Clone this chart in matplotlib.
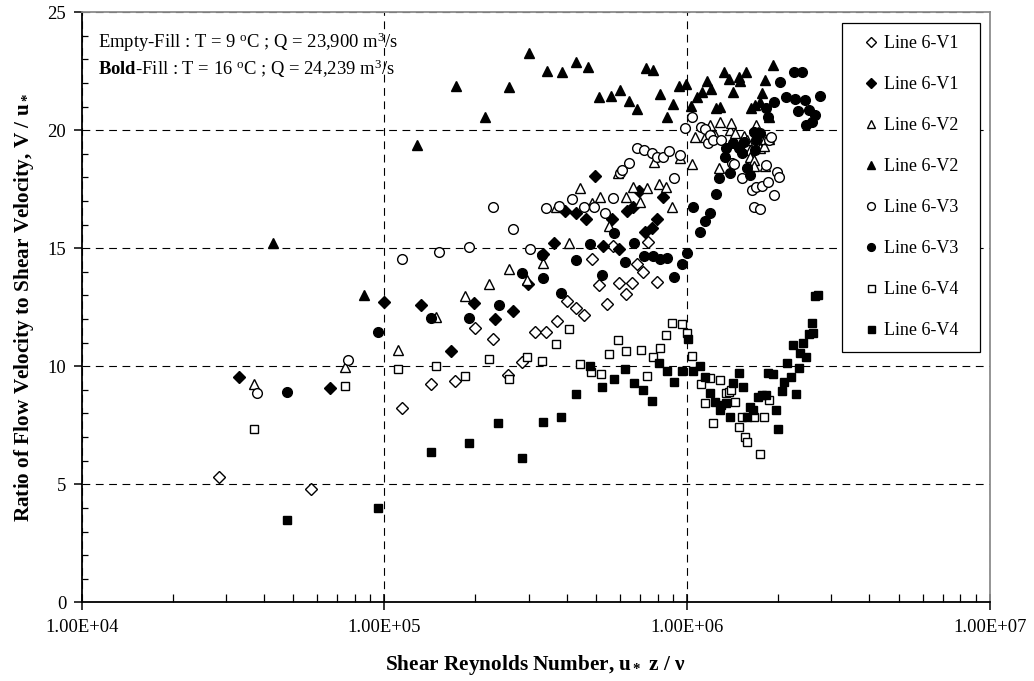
import matplotlib
matplotlib.use('Agg')
import matplotlib.pyplot as plt
from matplotlib.ticker import FixedLocator, FixedFormatter, LogLocator, MultipleLocator, NullFormatter

plt.rcParams['font.family'] = ['Liberation Serif', 'DejaVu Serif']
plt.rcParams['mathtext.fontset'] = 'custom'
plt.rcParams['mathtext.rm'] = 'Liberation Serif'
plt.rcParams['mathtext.it'] = 'Liberation Serif:italic'
plt.rcParams['mathtext.bf'] = 'Liberation Serif:bold'

# ---------------- data ----------------
v1_open_x = [2.85e4, 5.71e4, 1.14e5, 1.43e5, 1.71e5, 2.0e5, 2.29e5, 2.57e5, 2.86e5, 3.15e5, 3.41e5,
             3.71e5, 4.0e5, 4.30e5, 4.57e5, 4.84e5, 5.13e5, 5.43e5, 5.71e5, 5.97e5, 6.28e5, 6.56e5,
             6.82e5, 7.14e5, 7.41e5, 7.98e5]
v1_open_y = [5.30, 4.79, 8.25, 9.24, 9.38, 11.61, 11.14, 9.63, 10.17, 11.47, 11.44,
             11.93, 12.78, 12.46, 12.17, 14.53, 13.44, 12.64, 15.11, 13.54, 13.06, 13.54,
             14.32, 14.01, 15.28, 13.58]

v1_fill_x = [3.30e4, 6.62e4, 1.0e5, 1.32e5, 1.66e5, 1.98e5, 2.32e5, 2.66e5, 2.98e5, 3.34e5, 3.64e5,
             3.95e5, 4.30e5, 4.64e5, 4.97e5, 5.29e5, 5.64e5, 5.97e5, 6.35e5, 6.65e5, 6.96e5, 7.26e5,
             7.64e5, 7.94e5, 8.31e5]
v1_fill_y = [9.56, 9.07, 12.74, 12.58, 10.65, 12.67, 11.99, 12.36, 13.47, 14.76, 15.21,
             16.59, 16.51, 16.23, 18.06, 15.11, 16.23, 14.96, 16.59, 16.74, 17.44, 15.70,
             15.85, 16.23, 17.16]

v2_open_x = [3.71e4, 7.42e4, 1.11e5, 1.48e5, 1.85e5, 2.22e5, 2.59e5, 2.95e5, 3.34e5, 3.69e5, 4.08e5,
             4.43e5, 4.84e5, 5.16e5, 5.53e5, 5.93e5, 6.28e5, 6.62e5, 7.0e5, 7.36e5, 7.78e5, 8.10e5,
             8.52e5, 8.89e5, 9.48e5, 1.04e6, 1.06e6, 1.15e6, 1.19e6, 1.24e6, 1.28e6, 1.29e6,
             1.39e6, 1.40e6, 1.44e6, 1.54e6, 1.58e6, 1.62e6, 1.62e6, 1.66e6, 1.67e6, 1.69e6, 1.72e6,
             1.74e6, 1.79e6, 1.81e6, 1.81e6, 1.87e6]
v2_open_y = [9.25, 9.98, 10.69, 12.10, 12.99, 13.49, 14.12, 13.66, 14.36, 16.74, 15.21,
             17.54, 16.91, 17.16, 15.94, 18.20, 17.19, 17.58, 16.97, 17.54, 18.67, 17.71,
             17.61, 16.74, 18.81, 18.57, 19.70, 19.73, 20.22, 19.80, 18.39, 20.36,
             20.01, 20.30, 19.87, 19.76, 19.59, 19.17, 18.88, 18.74, 18.49, 20.22, 19.94,
             19.24, 19.33, 19.62, 18.49, 19.62]

v2_fill_x = [4.30e4, 8.57e4, 1.28e5, 1.72e5, 2.15e5, 2.58e5, 3.01e5, 3.44e5, 3.86e5, 4.30e5, 4.72e5,
             5.13e5, 5.59e5, 6.01e5, 6.45e5, 6.85e5, 7.31e5, 7.74e5, 8.15e5, 8.61e5, 9.02e5, 9.44e5,
             9.91e5, 1.03e6, 1.08e6, 1.12e6, 1.16e6, 1.20e6, 1.25e6, 1.29e6, 1.33e6, 1.38e6,
             1.42e6, 1.48e6, 1.50e6, 1.57e6, 1.63e6, 1.68e6, 1.74e6, 1.77e6, 1.81e6, 1.87e6, 1.93e6]
v2_fill_y = [15.21, 13.02, 19.38, 21.88, 20.58, 21.82, 23.26, 22.53, 22.46, 22.89, 22.67,
             21.42, 21.47, 21.71, 21.24, 20.90, 22.65, 22.55, 21.53, 20.58, 21.10, 21.89,
             21.95, 21.03, 21.42, 21.64, 22.10, 21.74, 20.93, 21.00, 22.48, 22.16,
             21.64, 22.27, 22.10, 22.48, 20.93, 21.07, 21.21, 21.57, 22.13, 20.58, 22.77]

v3_open_x = [3.80e4, 7.59e4, 1.14e5, 1.52e5, 1.90e5, 2.28e5, 2.66e5, 3.03e5, 3.42e5, 3.79e5, 4.17e5,
             4.57e5, 4.94e5, 5.36e5, 5.71e5, 6.0e5, 6.08e5, 6.44e5, 6.82e5, 7.23e5, 7.64e5, 7.94e5,
             8.35e5, 8.74e5, 9.08e5, 9.48e5, 9.85e5, 1.04e6, 1.11e6, 1.15e6, 1.17e6, 1.19e6,
             1.22e6, 1.30e6, 1.41e6, 1.43e6, 1.52e6, 1.64e6, 1.67e6, 1.69e6, 1.74e6, 1.77e6,
             1.82e6, 1.85e6, 1.86e6, 1.90e6, 1.94e6, 1.98e6, 2.02e6]
v3_open_y = [8.86, 10.27, 14.53, 14.86, 15.07, 16.74, 15.81, 14.98, 16.72, 16.79, 17.08,
             16.76, 16.76, 16.51, 17.12, 18.20, 18.32, 18.63, 19.26, 19.17, 19.05, 18.86,
             18.86, 19.14, 17.97, 18.95, 20.08, 20.55, 20.13, 20.04, 19.47, 19.80,
             19.59, 19.59, 18.60, 18.57, 17.97, 17.47, 16.76, 17.61, 16.65, 17.64,
             18.53, 17.82, 19.59, 19.73, 17.26, 18.25, 18.03]

v3_fill_x = [4.78e4, 9.55e4, 1.43e5, 1.91e5, 2.39e5, 2.86e5, 3.32e5, 3.35e5, 3.83e5, 4.30e5, 4.78e5,
             5.23e5, 5.74e5, 6.24e5, 6.68e5, 7.21e5, 7.70e5, 8.15e5, 8.61e5, 9.06e5, 9.60e5, 1.0e6,
             1.05e6, 1.10e6, 1.15e6, 1.19e6, 1.25e6, 1.28e6, 1.34e6, 1.35e6, 1.39e6, 1.42e6,
             1.48e6, 1.52e6, 1.54e6, 1.58e6, 1.62e6, 1.66e6, 1.68e6, 1.69e6, 1.74e6, 1.83e6,
             1.85e6, 1.94e6, 2.03e6, 2.13e6, 2.26e6, 2.28e6, 2.33e6, 2.39e6, 2.45e6, 2.48e6,
             2.52e6, 2.58e6, 2.65e6, 2.74e6]
v3_fill_y = [8.92, 11.45, 12.03, 12.03, 12.60, 13.97, 14.72, 13.73, 13.09, 14.50, 15.18,
             13.87, 15.66, 14.43, 15.24, 14.67, 14.67, 14.53, 14.58, 13.80, 14.33, 14.81,
             16.74, 15.70, 16.16, 16.48, 17.30, 17.97, 18.88, 19.24, 18.18, 19.45,
             19.24, 19.03, 19.52, 18.39, 18.11, 19.94, 19.17, 19.59, 19.87, 20.93,
             20.58, 21.21, 22.06, 21.42, 22.46, 21.31, 20.83, 22.46, 21.28, 20.22,
             20.86, 20.37, 20.65, 21.45]

v4_open_x = [3.71e4, 7.39e4, 1.11e5, 1.48e5, 1.85e5, 2.22e5, 2.59e5, 2.95e5, 3.33e5, 3.69e5, 4.07e5,
             4.43e5, 4.8e5, 5.19e5, 5.53e5, 5.93e5, 6.28e5, 7.03e5, 7.40e5, 7.74e5, 8.15e5, 8.51e5,
             8.90e5, 9.60e5, 1.0e6, 1.04e6, 1.11e6, 1.15e6, 1.19e6, 1.22e6, 1.29e6, 1.35e6,
             1.38e6, 1.40e6, 1.44e6, 1.48e6, 1.52e6, 1.56e6, 1.58e6, 1.66e6, 1.74e6, 1.79e6, 1.86e6]
v4_open_y = [7.34, 9.17, 9.89, 10.03, 9.59, 10.30, 9.46, 10.41, 10.22, 10.95, 11.57,
             10.08, 9.77, 9.67, 10.52, 11.11, 10.66, 10.69, 9.60, 10.38, 10.76, 11.33,
             11.85, 11.79, 11.40, 10.44, 9.24, 8.46, 9.52, 7.58, 9.42, 8.88,
             8.92, 9.00, 8.50, 7.44, 7.84, 6.99, 6.81, 7.84, 6.27, 7.84, 8.57]

v4_fill_x = [4.78e4, 9.55e4, 1.43e5, 1.91e5, 2.38e5, 2.86e5, 3.34e5, 3.83e5, 4.30e5, 4.79e5, 5.25e5,
             5.74e5, 6.22e5, 6.68e5, 7.18e5, 7.64e5, 8.10e5, 8.61e5, 9.06e5, 9.60e5, 1.01e6, 1.05e6,
             1.10e6, 1.15e6, 1.19e6, 1.24e6, 1.29e6, 1.30e6, 1.35e6, 1.39e6, 1.42e6, 1.48e6,
             1.53e6, 1.58e6, 1.62e6, 1.65e6, 1.72e6, 1.77e6, 1.82e6, 1.85e6, 1.92e6, 1.97e6,
             2.00e6, 2.06e6, 2.09e6, 2.14e6, 2.20e6, 2.24e6, 2.29e6, 2.35e6, 2.37e6, 2.41e6,
             2.48e6, 2.52e6, 2.58e6, 2.61e6, 2.65e6, 2.70e6]
v4_fill_y = [3.49, 3.98, 6.38, 6.74, 7.61, 6.13, 7.65, 7.86, 8.83, 10.03, 9.14,
             9.46, 9.89, 9.28, 9.00, 8.54, 10.15, 9.81, 9.32, 9.81, 11.14, 9.81,
             10.01, 9.56, 8.88, 8.50, 8.15, 8.36, 8.46, 7.84, 9.31, 9.73,
             9.11, 7.84, 8.26, 8.15, 8.71, 8.78, 8.78, 9.70, 9.67, 8.15,
             7.33, 8.95, 9.35, 10.15, 9.53, 10.90, 8.83, 9.92, 10.58, 10.97,
             10.38, 11.37, 11.85, 11.40, 12.97, 13.02]

series_labels = ['Line 6-V1', 'Line 6-V1', 'Line 6-V2', 'Line 6-V2',
                 'Line 6-V3', 'Line 6-V3', 'Line 6-V4', 'Line 6-V4']
x_tick_values = [1e4, 1e5, 1e6, 1e7]
x_tick_labels = ['1.00E+04', '1.00E+05', '1.00E+06', '1.00E+07']
y_tick_values = [0, 5, 10, 15, 20, 25]

# ---------------- figure ----------------
W, H = 1034, 681
fig = plt.figure(figsize=(W / 100, H / 100), dpi=100)
ax = fig.add_axes([81.6 / W, 1 - 602.3 / H, (989.7 - 81.6) / W, (602.3 - 12.3) / H])

series = [
    (v1_open_x, v1_open_y, 'D', 'white', 6.4),
    (v1_fill_x, v1_fill_y, 'D', 'black', 6.4),
    (v2_open_x, v2_open_y, '^', 'white', 7.2),
    (v2_fill_x, v2_fill_y, '^', 'black', 7.2),
    (v3_open_x, v3_open_y, 'o', 'white', 7.0),
    (v3_fill_x, v3_fill_y, 'o', 'black', 7.0),
    (v4_open_x, v4_open_y, 's', 'white', 6.3),
    (v4_fill_x, v4_fill_y, 's', 'black', 6.3),
]
for (xs, ys, mk, fc, ms), lab in zip(series, series_labels):
    ax.plot(xs, ys, linestyle='none', marker=mk, ms=ms, mfc=fc, mec='black',
            mew=1.0, label=lab, zorder=3, clip_on=False)

ax.set_xscale('log')
ax.set_xlim(1e4, 1e7)
ax.set_ylim(0, 25)

ax.xaxis.set_major_locator(FixedLocator(x_tick_values))
ax.xaxis.set_major_formatter(FixedFormatter(x_tick_labels))
ax.xaxis.set_minor_locator(LogLocator(base=10, subs=range(2, 10)))
ax.xaxis.set_minor_formatter(NullFormatter())
ax.yaxis.set_major_locator(FixedLocator(y_tick_values))
ax.yaxis.set_minor_locator(MultipleLocator(1))

ax.tick_params(axis='x', which='major', direction='inout', length=12, width=1.1,
               labelsize=13.4, pad=6)
ax.tick_params(axis='x', which='minor', direction='in', length=6, width=0.9)
ax.tick_params(axis='y', which='major', direction='out', length=6, width=1.1,
               labelsize=13.4, pad=5)
ax.tick_params(axis='y', which='minor', direction='in', length=4.5, width=0.9)

for s in ('left', 'bottom'):
    ax.spines[s].set_linewidth(1.3)
    ax.spines[s].set_color('black')
for s in ('top', 'right'):
    ax.spines[s].set_linewidth(1.3)
    ax.spines[s].set_color('#8c8c8c')

ax.grid(True, which='major', color='black', linewidth=0.8, linestyle=(0, (7, 5)), zorder=1)
ax.set_axisbelow(True)

ax.set_xlabel(r'Shear Reynolds Number, $\mathbf{u_*}$ z / ν', fontsize=15.3,
              fontweight='bold', labelpad=12)
ax.set_ylabel(r'Ratio of Flow Velocity to Shear Velocity, V / $\mathbf{u_*}$', fontsize=15.3,
              fontweight='bold', labelpad=8)

fig.text(98 / W, 1 - 42 / H, r'Empty-Fill : T = 9 $^{\rm o}$C ; Q = 23,900 m$^3$/s',
         fontsize=13.4, va='center', ha='left')
fig.text(98 / W, 1 - 69 / H, r'$\mathbf{Bold}$-Fill : T = 16 $^{\rm o}$C ; Q = 24,239 m$^3$/s',
         fontsize=13.4, va='center', ha='left')

leg = ax.legend(loc='upper left',
                bbox_to_anchor=(842.3 / W, 1 - 349 / H, 137.7 / W, 326.3 / H),
                bbox_transform=fig.transFigure, mode='expand', frameon=True, fancybox=False,
                edgecolor='black', framealpha=1, borderpad=0.7, labelspacing=1.33,
                handlelength=1.8, handletextpad=-0.2, borderaxespad=0,
                markerscale=0.8, prop={'size': 13})
leg.get_frame().set_linewidth(0.9)

fig.savefig('out.png', dpi=100)
